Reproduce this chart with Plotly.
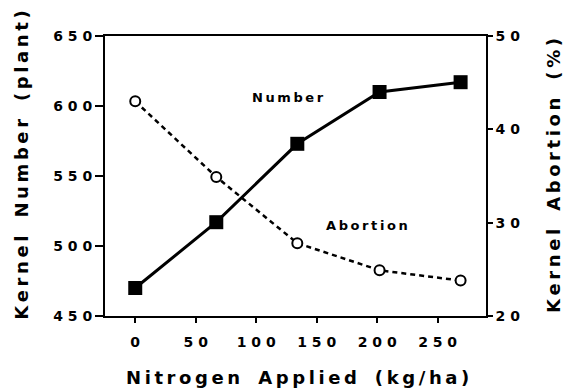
import plotly.graph_objects as go

# Nitrogen rates (kg/ha) and responses
nitrogen = [0, 67, 134, 202, 269]
kernel_number = [470, 517, 573, 610, 617]
kernel_abortion = [43.0, 34.9, 27.8, 24.9, 23.8]

left_ticks = [450, 500, 550, 600, 650]
right_ticks = [20, 30, 40, 50]
x_ticks = [0, 50, 100, 150, 200, 250]


def spaced(v):
    # widen digit spacing in tick labels
    return "\u00a0".join(str(v))


def tracked(text, gap="\u2009", word="\u2003"):
    # letter-spaced text: thin space between letters, wider gap between words
    return word.join(gap.join(w) for w in text.split(" "))


FONT = "DejaVu Sans"
fig = go.Figure()

fig.add_trace(go.Scatter(
    x=nitrogen, y=kernel_number, mode="lines+markers",
    line=dict(color="black", width=3),
    marker=dict(symbol="square", size=14, color="black"),
    showlegend=False,
))
fig.add_trace(go.Scatter(
    x=nitrogen, y=kernel_abortion, mode="lines+markers", yaxis="y2",
    line=dict(color="black", width=2.5, dash="5px,4px"),
    marker=dict(symbol="circle", size=10, color="white",
                line=dict(color="black", width=2)),
    showlegend=False,
))

axis_font = dict(family=FONT, size=14, color="black", weight="bold")

fig.update_layout(
    width=572, height=389,
    margin=dict(l=105, r=86, t=36, b=73),
    paper_bgcolor="white", plot_bgcolor="white",
    xaxis=dict(
        range=[-25, 290], tickvals=x_ticks,
        ticktext=[spaced(v) for v in x_ticks],
        showline=True, linecolor="black", linewidth=2, mirror=True,
        ticks="outside", ticklen=5, tickwidth=1.5, tickcolor="black",
        ticklabelstandoff=7,
        showgrid=False, zeroline=False, tickfont=axis_font,
    ),
    yaxis=dict(
        range=[450, 650], tickvals=left_ticks,
        ticktext=[spaced(v) for v in left_ticks],
        showline=True, linecolor="black", linewidth=2,
        ticks="outside", ticklen=8, tickwidth=1.5, tickcolor="black",
        showgrid=False, zeroline=False, tickfont=axis_font,
    ),
    yaxis2=dict(
        range=[20, 50], tickvals=right_ticks,
        ticktext=[spaced(v) for v in right_ticks],
        overlaying="y", side="right",
        showline=True, linecolor="black", linewidth=1.5,
        ticks="outside", ticklen=5, tickwidth=1.5, tickcolor="black",
        showgrid=False, zeroline=False, tickfont=axis_font,
    ),
)

title_font = dict(family=FONT, size=18, color="black", weight="bold")
label_font = dict(family=FONT, size=13, color="black", weight="bold")

fig.add_annotation(text=tracked("Nitrogen Applied (kg/ha)"), xref="paper", yref="paper",
                   x=0.505, y=-0.218, yanchor="middle", showarrow=False, font=title_font)
fig.add_annotation(text=tracked("Kernel Number (plant)"), xref="paper", yref="paper",
                   x=-0.218, y=0.54, textangle=-90, xanchor="center", yanchor="middle",
                   showarrow=False, font=title_font)
fig.add_annotation(text=tracked("Kernel Abortion (%)"), xref="paper", yref="paper",
                   x=1.176, y=0.50, textangle=-90, xanchor="center", yanchor="middle",
                   showarrow=False, font=title_font)
fig.add_annotation(text=tracked("Number"), x=126, y=606, showarrow=False, font=label_font)
fig.add_annotation(text=tracked("Abortion"), x=192, y=515, showarrow=False, font=label_font)

fig.write_html("out.html")
